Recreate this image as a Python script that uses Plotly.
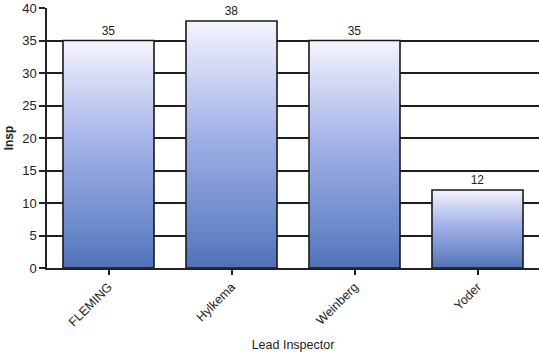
import plotly.graph_objects as go

# Inspection counts by lead inspector
inspectors = ["FLEMING", "Hylkema", "Weinberg", "Yoder"]
insp_counts = [35, 38, 35, 12]
y_ticks = [0, 5, 10, 15, 20, 25, 30, 35, 40]

half_width = 0.37
gradient = [[0.0, "#5270b4"], [0.12, "#6383c6"], [0.55, "#a4b2e8"], [1.0, "#f4f4fd"]]

fig = go.Figure()

# Value labels carried by transparent bars
fig.add_trace(go.Bar(
    x=list(range(len(inspectors))), y=insp_counts,
    width=2 * half_width,
    marker=dict(color="rgba(0,0,0,0)", line=dict(width=0)),
    text=[str(v) for v in insp_counts], textposition="outside",
    textfont=dict(family="Arial, Liberation Sans, sans-serif", size=12, color="#222"),
    cliponaxis=False, hoverinfo="skip", showlegend=False,
))

# Gradient-filled bars with dark outlines
for i, v in enumerate(insp_counts):
    fig.add_trace(go.Scatter(
        x=[i - half_width, i + half_width, i + half_width, i - half_width, i - half_width],
        y=[0, 0, v, v, 0],
        mode="lines", fill="toself",
        fillgradient=dict(type="vertical", colorscale=gradient),
        line=dict(color="#1a1a1a", width=1.6),
        hoverinfo="skip", showlegend=False,
    ))

fig.update_layout(
    width=539, height=355,
    margin=dict(l=47, r=0, t=8, b=87),
    plot_bgcolor="white", paper_bgcolor="white",
    font=dict(family="Arial, Liberation Sans, sans-serif", color="#222"),
)

fig.update_xaxes(
    range=[-0.5, len(inspectors) - 0.5],
    tickmode="array", tickvals=list(range(len(inspectors))), ticktext=inspectors,
    tickangle=-45, tickfont=dict(size=12.5),
    ticks="outside", ticklen=5, tickwidth=1.5, tickcolor="#222",
    showgrid=False, zeroline=False,
    showline=True, linecolor="#222", linewidth=1.5,
    title=dict(text="Lead Inspector", font=dict(size=12.5), standoff=12),
)

fig.update_yaxes(
    range=[0, 40],
    tickmode="array", tickvals=y_ticks,
    tickfont=dict(size=13),
    ticks="outside", ticklen=6, tickwidth=1.5, tickcolor="#222",
    showgrid=True, gridcolor="#1e1e1e", gridwidth=1.5,
    zeroline=False,
    showline=True, linecolor="#222", linewidth=1.5,
    title=dict(text="<b>Insp</b>", font=dict(size=12), standoff=6),
)

fig.write_html("out.html")
